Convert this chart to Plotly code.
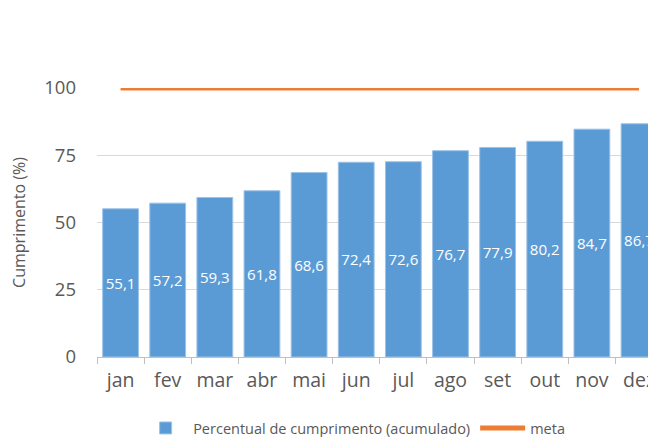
import plotly.graph_objects as go

meses = ['jan', 'fev', 'mar', 'abr', 'mai', 'jun', 'jul', 'ago', 'set', 'out', 'nov', 'dez']
percentual = [55.1, 57.2, 59.3, 61.8, 68.6, 72.4, 72.6, 76.7, 77.9, 80.2, 84.7, 86.7]
meta = [100] * 12

font_family = 'Open Sans, Liberation Sans, sans-serif'
cinza = '#595959'

fig = go.Figure()

# barras do percentual acumulado
fig.add_trace(go.Bar(
    x=meses, y=percentual,
    name='Percentual de cumprimento (acumulado)',
    marker=dict(color='#5B9BD5', line=dict(color='#9DC3E6', width=1)),
    texttemplate='%{y:.1f}',
    textposition='inside',
    insidetextanchor='middle',
    textangle=0,
    textfont=dict(color='white', size=17, family=font_family),
))

# linha da meta
fig.add_trace(go.Scatter(
    x=meses, y=meta,
    mode='lines',
    name='meta',
    line=dict(color='#ED7D31', width=5),
    cliponaxis=False,
))

# a página tem 8px de margem no body, então a figura é um pouco menor
fig.update_layout(
    width=648, height=429,
    margin=dict(l=89, r=0, t=80, b=80, autoexpand=False),
    plot_bgcolor='white',
    paper_bgcolor='white',
    separators=',.',
    bargap=0.24,
    showlegend=True,
    legend=dict(
        orientation='h',
        x=0.46, xanchor='center',
        y=-0.264, yanchor='middle',
        font=dict(size=14.5, color=cinza, family=font_family),
        itemwidth=45,
    ),
    font=dict(family=font_family, color=cinza),
)

fig.update_xaxes(
    range=[-0.5, 11.36],
    automargin=False,
    tickfont=dict(size=19.5, color=cinza),
    ticklabelstandoff=6,
    ticks='outside', tickson='boundaries', ticklen=6, tickcolor='#BFBFBF',
    showline=True, linecolor='#BFBFBF', linewidth=1,
    showgrid=False,
)

fig.update_yaxes(
    range=[0, 100],
    automargin=False,
    tickvals=[0, 25, 50, 75, 100],
    tickfont=dict(size=18.5, color=cinza),
    ticklabelstandoff=20,
    showgrid=True, gridcolor='#D9D9D9', gridwidth=1,
    zeroline=False,
    title=dict(text='Cumprimento (%)', font=dict(size=16, color=cinza), standoff=14),
)

fig.write_html('out.html')
